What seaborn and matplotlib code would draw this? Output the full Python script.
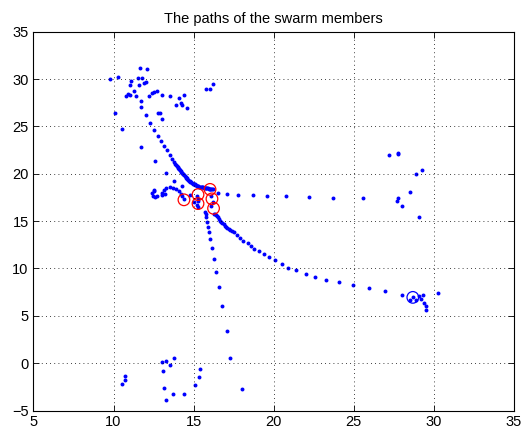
import numpy as np
import pandas as pd
import matplotlib
matplotlib.use('Agg')
import matplotlib.pyplot as plt
import seaborn as sns

# Positions visited by the swarm members (x, y)
scatter_top_x = [11.67, 12.1, 9.8, 10.3, 11.8, 11.5, 11.1, 11.0, 11.6, 12.0, 11.9, 11.3, 10.9, 10.8, 11.0,
                 11.4, 12.4, 12.5, 12.7, 12.2, 13.0, 11.7, 11.7, 10.1, 13.5, 14.1, 14.4, 13.9, 14.2, 14.3,
                 14.6, 12.8, 12.9, 12.0, 13.0, 10.5, 11.7, 12.6, 13.25, 15.8, 16.0, 16.2]
scatter_top_y = [31.2, 31.1, 30.0, 30.2, 30.1, 30.1, 29.8, 29.4, 29.4, 29.7, 29.6, 28.7, 28.4, 28.2, 28.3,
                 28.2, 28.5, 28.6, 28.7, 28.2, 28.3, 27.7, 27.1, 26.4, 28.2, 28.0, 28.3, 27.3, 27.5, 27.3,
                 26.9, 26.4, 26.4, 26.2, 25.8, 24.7, 22.8, 21.3, 20.1, 29.0, 28.9, 29.5]

diagonal_x = [12.29, 12.56, 12.77, 12.98, 13.13, 13.33, 13.5, 13.65, 13.77, 13.84, 13.9, 13.95, 14.0, 14.04,
              14.08, 14.12, 14.16, 14.2, 14.23, 14.28, 14.32, 14.36, 14.4, 14.45, 14.5, 14.54, 14.58, 14.62,
              14.67, 14.71, 14.75, 14.8, 14.85, 14.9, 14.96, 15.0, 15.03, 15.07, 15.1, 15.15, 15.2, 15.25,
              15.3, 15.35, 15.4, 15.45, 15.5, 15.55, 15.6, 15.65, 15.7, 15.75, 15.8, 15.85, 15.9, 15.95,
              16.0, 16.05, 16.1, 16.15, 16.2]
diagonal_y = [25.35, 24.58, 23.95, 23.42, 22.93, 22.47, 22.0, 21.6, 21.24, 21.05, 20.9, 20.8, 20.72, 20.63,
              20.55, 20.46, 20.37, 20.28, 20.2, 20.1, 20.02, 19.93, 19.84, 19.75, 19.66, 19.58, 19.5, 19.42,
              19.35, 19.27, 19.2, 19.14, 19.08, 19.02, 18.97, 18.93, 18.9, 18.87, 18.85, 18.8, 18.75, 18.71,
              18.68, 18.65, 18.62, 18.6, 18.58, 18.56, 18.55, 18.52, 18.5, 18.49, 18.48, 18.46, 18.45, 18.44,
              18.42, 18.41, 18.4, 18.39, 18.38]

hook_x = [12.5, 12.45, 12.6, 12.7, 13.0, 13.05, 13.15, 13.3, 13.5, 13.7, 13.9, 14.1, 14.2, 14.3, 14.4,
          13.2, 13.8, 14.3, 14.8, 15.0, 12.5, 12.4, 15.2, 15.25, 15.3, 15.2, 15.3, 16.1, 16.2, 16.1]
hook_y = [18.2, 17.6, 17.5, 17.6, 17.75, 18.0, 18.3, 18.45, 18.55, 18.5, 18.4, 18.2, 17.9, 17.6, 17.3,
          17.85, 19.2, 18.7, 17.75, 17.05, 18.3, 18.0, 17.6, 17.3, 17.1, 16.7, 16.5, 17.6, 17.0, 16.6]

right_x = [16.5, 17.1, 17.8, 18.7, 19.6, 20.8, 22.2, 23.7, 25.6, 27.2, 27.8, 27.8, 29.3, 28.9, 28.55,
           27.8, 27.7, 28.0, 29.1]
right_y = [18.0, 17.9, 17.8, 17.8, 17.7, 17.65, 17.55, 17.45, 17.4, 22.0, 22.2, 22.1, 20.45, 20.0, 18.1,
           17.4, 17.1, 16.6, 15.4]

curve_x = [16.3, 16.35, 16.4, 16.45, 16.5, 16.57, 16.65, 16.72, 16.8, 16.88, 16.97, 17.03, 17.1, 17.2, 17.3,
           17.4, 17.5, 17.7, 17.9, 18.1, 18.4, 18.6, 18.8,
           19.1, 19.4, 19.7, 20.1, 20.5, 20.9, 21.4, 22.0, 22.6, 23.3, 24.1, 24.97, 25.95, 26.95, 28.0,
           28.7, 28.5, 28.9, 29.1, 29.2, 29.35, 29.4, 29.5, 29.5, 30.3]
curve_y = [15.8, 15.7, 15.6, 15.5, 15.4, 15.22, 15.05, 14.92, 14.8, 14.65, 14.5, 14.4, 14.3, 14.2, 14.1,
           14.0, 13.9, 13.5, 13.2, 12.95, 12.7, 12.4, 12.1,
           11.8, 11.55, 11.2, 10.85, 10.5, 10.1, 9.8, 9.45, 9.1, 8.8, 8.55, 8.25, 7.95, 7.6, 7.2,
           6.95, 6.65, 6.7, 7.05, 6.75, 7.2, 6.4, 6.0, 5.65, 7.4]

down_x = [15.7, 15.75, 15.8, 15.86, 15.9, 15.97, 16.05, 16.15, 16.3, 16.4, 16.6, 16.8, 17.1, 17.3]
down_y = [16.0, 15.7, 15.4, 14.9, 14.4, 13.8, 13.1, 12.2, 11.0, 9.65, 8.0, 6.0, 3.45, 0.6]

bottom_x = [13.75, 13.05, 13.3, 13.55, 13.07, 10.7, 10.73, 10.5, 13.15, 13.7, 14.4, 13.3, 15.4, 15.35,
            15.1, 18.0]
bottom_y = [0.55, 0.1, 0.25, -0.15, -0.85, -1.4, -1.75, -2.2, -2.6, -3.2, -3.3, -3.9, -0.6, -1.5,
            -2.35, -2.7]

# final positions of the members (red circles) and the target (blue circle)
final_x = [14.4, 15.28, 15.28, 16.03, 16.15, 16.25]
final_y = [17.25, 17.8, 16.85, 18.35, 17.35, 16.35]
target_x = [28.7]
target_y = [6.95]

paths = pd.DataFrame({
    'x': scatter_top_x + diagonal_x + hook_x + right_x + curve_x + down_x + bottom_x,
    'y': scatter_top_y + diagonal_y + hook_y + right_y + curve_y + down_y + bottom_y,
})
finals = pd.DataFrame({'x': final_x, 'y': final_y})
target = pd.DataFrame({'x': target_x, 'y': target_y})

plt.rcParams['font.family'] = ['Liberation Sans', 'DejaVu Sans']

fig = plt.figure(figsize=(5.25, 4.34), dpi=100)
ax = fig.add_axes([0.0638, 0.054, 0.9146, 0.873])

sns.scatterplot(data=paths, x='x', y='y', ax=ax, color='#0000ff', s=8, marker='o', linewidth=0)
sns.scatterplot(data=finals, x='x', y='y', ax=ax, s=70, marker='o',
                facecolors='none', edgecolor='#ff0000', linewidth=0.9)
sns.scatterplot(data=target, x='x', y='y', ax=ax, s=70, marker='o',
                facecolors='none', edgecolor='#0000ff', linewidth=0.9)

ax.set_xlim(5, 35)
ax.set_ylim(-5, 35)
ax.set_xticks(np.arange(5, 36, 5))
ax.set_yticks(np.arange(-5, 36, 5))
ax.set_xlabel('')
ax.set_ylabel('')
ax.set_title('The paths of the swarm members', fontsize=10.5, pad=6)
ax.grid(True, color='black', linestyle=(0, (1, 4)), linewidth=0.6)
ax.tick_params(direction='in', top=True, right=True, length=4, width=0.6, labelsize=10.5)
for side in ax.spines.values():
    side.set_linewidth(0.8)

fig.savefig('out.png', dpi=100)
